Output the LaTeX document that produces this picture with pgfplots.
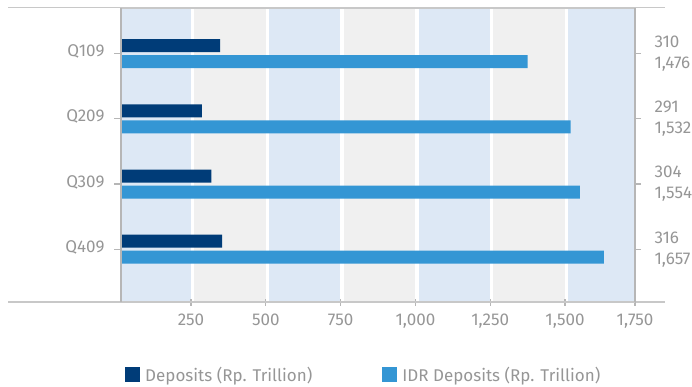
\documentclass[border=0pt]{standalone}
\usepackage{fontspec}
\setmainfont{Fira Sans}
\usepackage{pgfplots}
\pgfplotsset{compat=1.18}
\definecolor{dep}{RGB}{0,60,120}
\definecolor{idr}{RGB}{52,150,212}
\definecolor{bandblue}{RGB}{221,232,245}
\definecolor{bandgray}{RGB}{240,240,240}
\definecolor{axisgray}{RGB}{182,182,182}
\definecolor{linegray}{RGB}{200,200,200}
\definecolor{txt}{RGB}{150,150,150}
\begin{document}
\begin{tikzpicture}[x=1pt,y=1pt]
\useasboundingbox (0,0) rectangle (692,387);
\draw[linegray, line width=1.3pt] (8,379.5) -- (665,379.5);
\draw[linegray, line width=1.3pt] (8,85) -- (665,85);
\begin{axis}[
  at={(121pt,85pt)}, anchor=south west,
  scale only axis, width=514pt, height=294pt,
  xmin=16, xmax=1734, ymin=-0.70, ymax=3.81, y dir=reverse,
  xbar, bar width=13pt,
  axis on top,
  xtick={250,500,750,1000,1250,1500,1734},
  xticklabels={250,500,750,{1,000},{1,250},{1,500},{1,750}},
  ytick={0,1,2,3}, yticklabels={Q109,Q209,Q309,Q409},
  xtick pos=bottom, ytick pos=left,
  tick align=outside, major tick length=7pt,
  separate axis lines,
  x axis line style={draw=linegray, line width=1.3pt},
  y axis line style={draw=axisgray, line width=2.5pt},
  xtick style={draw=axisgray, line width=1.2pt, yshift=3.5pt},
  ytick style={draw=axisgray, line width=1.2pt},
  ticklabel style={font=\fontsize{17}{20}\selectfont, text=txt},
  xticklabel style={yshift=-1pt},
  yticklabel style={xshift=-6pt, yshift=2pt},
  legend style={at={(0.002,-0.248)}, anchor=west, draw=none, fill=none,
    legend columns=2, font=\fontsize{17}{20}\selectfont, text=txt,
    /tikz/every odd column/.append style={column sep=3pt},
    /tikz/every even column/.append style={column sep=68pt}},
  legend cell align=left,
  legend image code/.code={\fill[#1] (0pt,-7.5pt) rectangle (15pt,7.5pt);},
]
\fill[bandblue] (axis cs:16,-0.7) rectangle (axis cs:250,3.81);
\fill[bandgray] (axis cs:250,-0.7) rectangle (axis cs:500,3.81);
\fill[bandblue] (axis cs:500,-0.7) rectangle (axis cs:750,3.81);
\fill[bandgray] (axis cs:750,-0.7) rectangle (axis cs:1000,3.81);
\fill[bandblue] (axis cs:1000,-0.7) rectangle (axis cs:1250,3.81);
\fill[bandgray] (axis cs:1250,-0.7) rectangle (axis cs:1500,3.81);
\fill[bandblue] (axis cs:1500,-0.7) rectangle (axis cs:1734,3.81);
\draw[white, line width=3.5pt] (axis cs:255,-0.7) -- (axis cs:255,3.81);
\draw[white, line width=3.5pt] (axis cs:505,-0.7) -- (axis cs:505,3.81);
\draw[white, line width=3.5pt] (axis cs:755,-0.7) -- (axis cs:755,3.81);
\draw[white, line width=3.5pt] (axis cs:1005,-0.7) -- (axis cs:1005,3.81);
\draw[white, line width=3.5pt] (axis cs:1255,-0.7) -- (axis cs:1255,3.81);
\draw[white, line width=3.5pt] (axis cs:1505,-0.7) -- (axis cs:1505,3.81);
\addplot[fill=dep, draw=none, bar shift=8pt] coordinates {(347,0) (286,1) (318,2) (354,3)};
\addplot[fill=idr, draw=none, bar shift=-8pt] coordinates {(1375,0) (1519,1) (1550,2) (1630,3)};
\legend{Deposits (Rp. Trillion), IDR Deposits (Rp. Trillion)}
\end{axis}
\begin{axis}[
  at={(121pt,85pt)}, anchor=south west,
  scale only axis, width=514pt, height=294pt,
  xmin=16, xmax=1734, ymin=-0.70, ymax=3.81, y dir=reverse,
  hide x axis, axis y line*=right,
  y axis line style={draw=none},
  ytick={0,1,2,3},
  yticklabels={{310\\1,476},{291\\1,532},{304\\1,554},{316\\1,657}},
  tick align=outside, major tick length=6pt,
  ytick style={draw=axisgray, line width=1.2pt},
  yticklabel style={font=\fontsize{17}{21}\selectfont, text=txt, align=left, xshift=10pt},
]
\end{axis}
\end{tikzpicture}
\end{document}
